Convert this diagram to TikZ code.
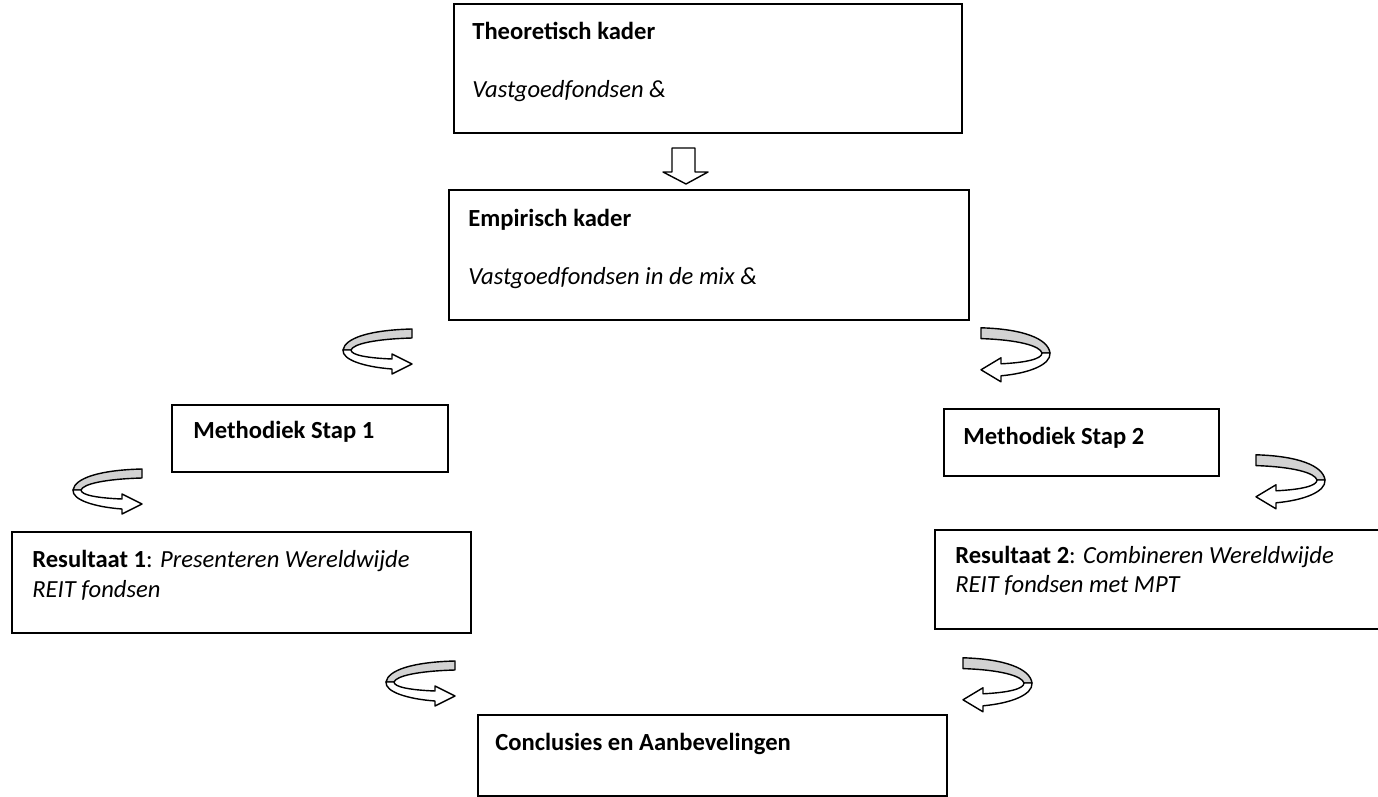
\documentclass[tikz,border=0pt]{standalone}
\usepackage{fontspec}
\setmainfont{Carlito}

\tikzset{
    kader/.style={draw, line width=1pt, inner sep=0pt},
    regel/.style={anchor=base west, inner sep=0pt},
    draaipijl/.pic={
        \filldraw[fill=gray!35, line width=0.8pt, line join=round]
            (67,-21) .. controls (25,-20) and (0,-12) .. (-2,0)
            -- (6,0) .. controls (8,-6) and (30,-11) .. (67,-12) -- cycle;
        \filldraw[fill=white, line width=0.8pt, line join=round]
            (-2,0) .. controls (-3,10) and (20,17) .. (47,19)
            -- (47,24) -- (67,14) -- (47,4) -- (47,9)
            .. controls (22,8) and (6,5) .. (6,0) -- cycle;
    }
}

\begin{document}
\begin{tikzpicture}[x=0.02cm, y=-0.02cm, font=\fontsize{14}{16}\selectfont]
    \clip (0,0) rectangle (1378,797);
    \node[kader, minimum width=10.16cm, minimum height=2.58cm] (1) at (708,68.5) {};
    \node[kader, minimum width=10.4cm, minimum height=2.6cm] (2) at (709,255) {};
    \node[kader, minimum width=5.52cm, minimum height=1.34cm] (3) at (310,438.5) {};
    \node[kader, minimum width=5.5cm, minimum height=1.34cm] (4) at (1081.5,442.5) {};
    \node[kader, minimum width=9.18cm, minimum height=2.02cm] (5) at (241.5,582.5) {};
    \node[kader, minimum width=8.94cm, minimum height=1.98cm] (6) at (1158.5,579.5) {};
    \node[kader, minimum width=9.38cm, minimum height=1.62cm] (7) at (712.5,755.5) {};

    \node[regel] (11) at (472,40) {\bfseries Theoretisch kader};
    \node[regel] (12) at (472,98) {\itshape Vastgoedfondsen \&};
    \node[regel] (13) at (468,226) {\bfseries Empirisch kader};
    \node[regel] (14) at (468,284) {\itshape Vastgoedfondsen in de mix \&};
    \node[regel] (15) at (193,438) {\bfseries Methodiek Stap 1};
    \node[regel] (16) at (963,444) {\bfseries Methodiek Stap 2};
    \node[regel] (17) at (32,567) {\textbf{Resultaat 1}: \textit{Presenteren Wereldwijde}};
    \node[regel] (18) at (32,597) {\itshape REIT fondsen};
    \node[regel] (19) at (955,563) {\textbf{Resultaat 2}: \textit{Combineren Wereldwijde}};
    \node[regel] (20) at (955,592) {\itshape REIT fondsen met MPT};
    \node[regel] (21) at (495,750) {\bfseries Conclusies en Aanbevelingen};

    \filldraw[fill=white, line width=0.8pt, line join=round]
        (672,148) -- (695,148) -- (695,172) -- (708,172) -- (686,184)
        -- (663,172) -- (672,172) -- cycle;

    \pic at (345,350) {draaipijl};
    \pic[xscale=-1, yscale=1.2] at (1048,353) {draaipijl};
    \pic at (75,490) {draaipijl};
    \pic[xscale=-1, yscale=1.2] at (1323,480) {draaipijl};
    \pic at (388,682) {draaipijl};
    \pic[xscale=-1, yscale=1.2] at (1030,683) {draaipijl};
\end{tikzpicture}
\end{document}
